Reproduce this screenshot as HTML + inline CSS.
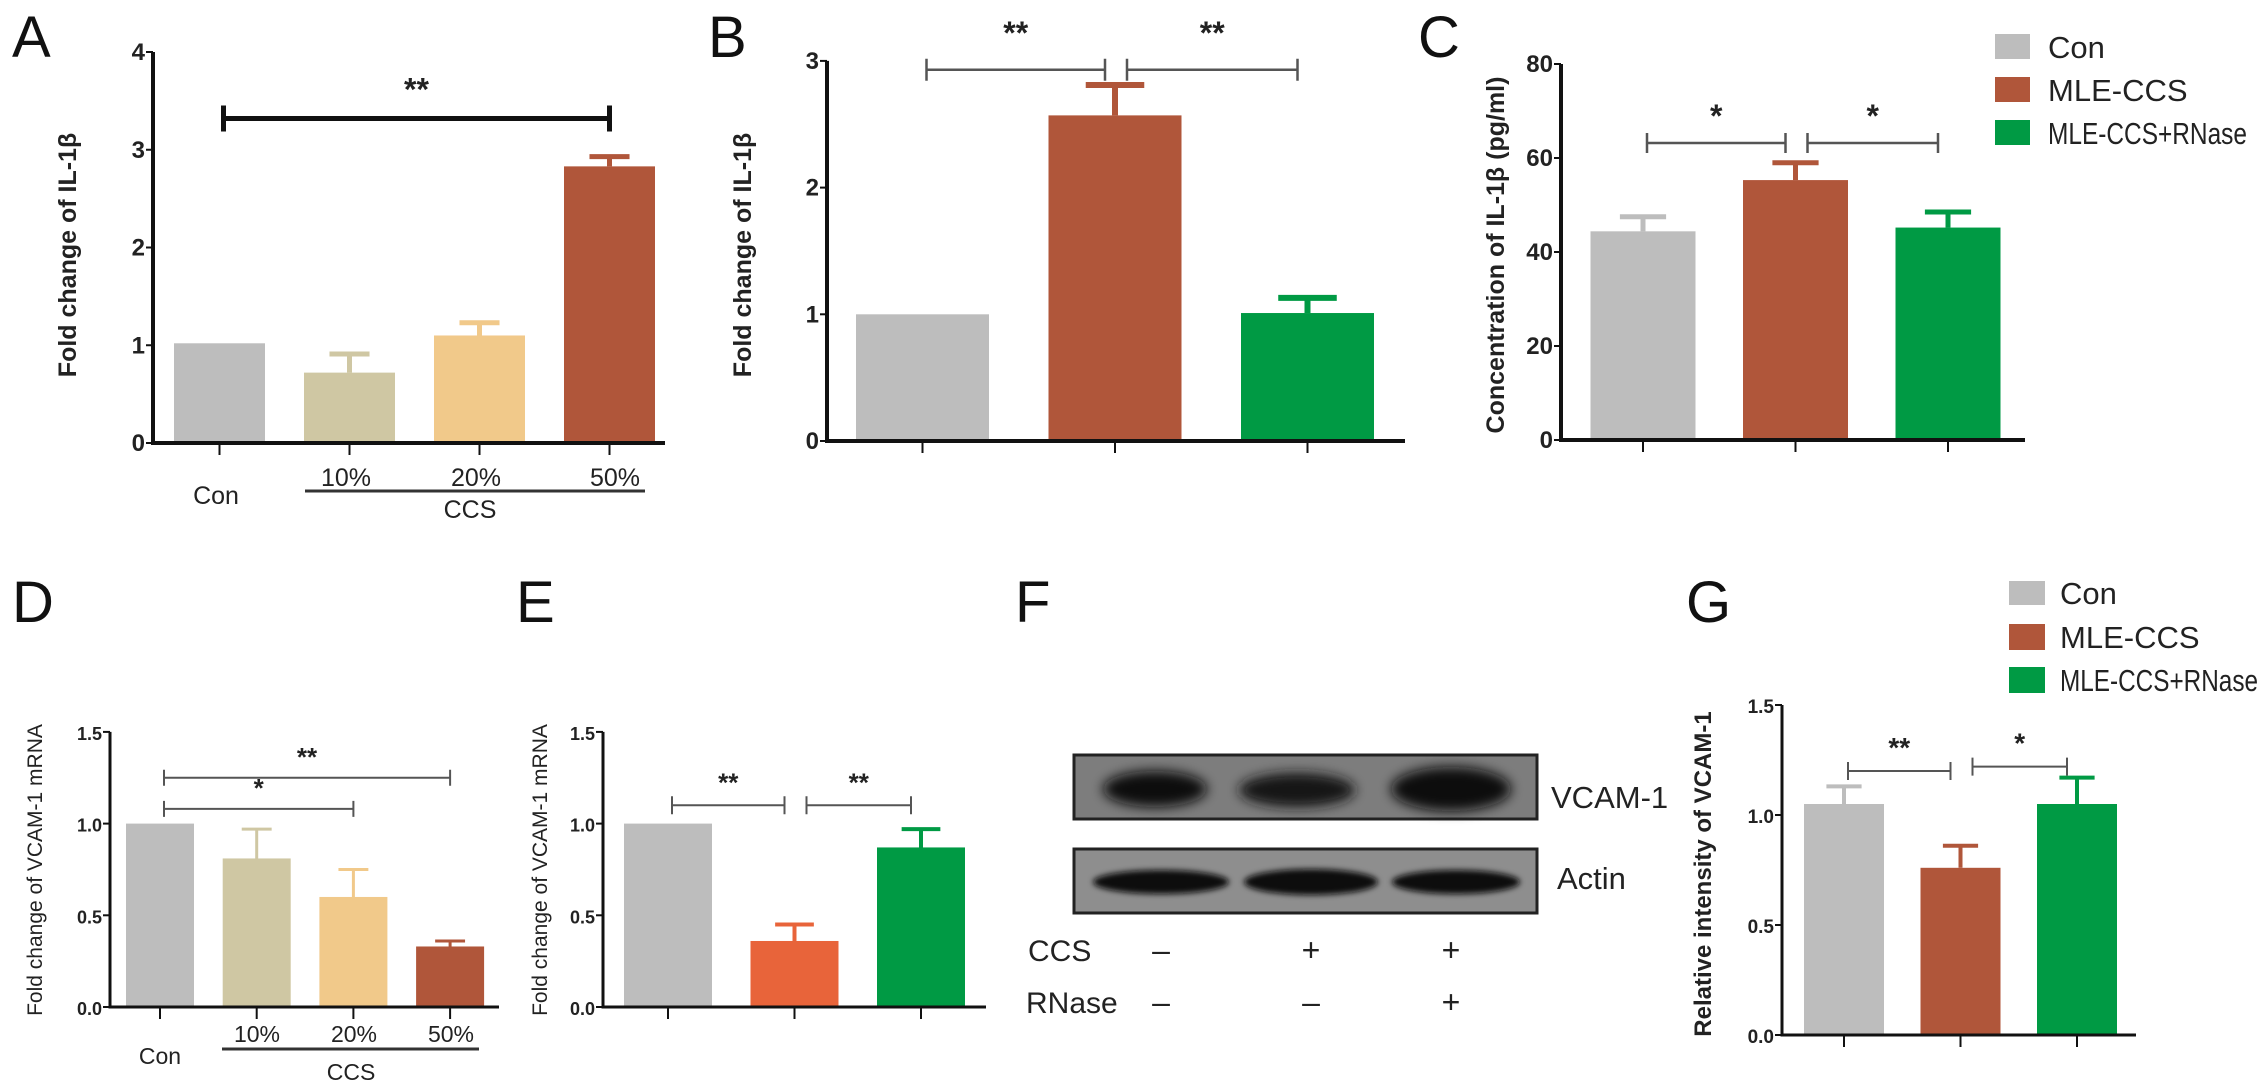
<!DOCTYPE html>
<html><head><meta charset="utf-8">
<style>
html,body{margin:0;padding:0;background:#fff;}
svg{display:block;}
text{font-family:"Liberation Sans Narrow","Liberation Sans",sans-serif;fill:#222;}
.lt{font-family:"Liberation Sans",sans-serif;font-size:58px;fill:#111;}
.tk{font-size:22px;font-weight:bold;}
.yl{font-family:"Liberation Sans",sans-serif;font-weight:bold;font-size:25px;}
.sig{font-size:30px;font-weight:bold;}
.lg{font-size:31px;}
</style></head>
<body>
<svg id="fig" width="2268" height="1091" viewBox="0 0 2268 1091" xmlns="http://www.w3.org/2000/svg">
<text class="lt" x="12" y="57">A</text>
<text class="lt" x="708" y="57">B</text>
<text class="lt" x="1418" y="57">C</text>
<text class="lt" x="12" y="622">D</text>
<text class="lt" x="516" y="622">E</text>
<text class="lt" x="1015" y="622">F</text>
<text class="lt" x="1686" y="622">G</text>

<text class="yl" transform="translate(76,255) rotate(-90)" text-anchor="middle">Fold change of IL-1β</text>
<text class="yl" transform="translate(751,255) rotate(-90)" text-anchor="middle">Fold change of IL-1β</text>
<text class="yl" transform="translate(1504,255) rotate(-90)" text-anchor="middle">Concentration of IL-1β (pg/ml)</text>
<text transform="translate(42,870) rotate(-90)" text-anchor="middle" style="font-family:'Liberation Sans',sans-serif;font-size:21px;">Fold change of VCAM-1 mRNA</text>
<text transform="translate(547,870) rotate(-90)" text-anchor="middle" style="font-family:'Liberation Sans',sans-serif;font-size:21px;">Fold change of VCAM-1 mRNA</text>
<text class="yl" transform="translate(1711,874) rotate(-90)" text-anchor="middle" style="font-size:24px">Relative intensity of VCAM-1</text>

<g style="font-size:25px">
<text x="216" y="504" text-anchor="middle">Con</text>
<text x="346" y="486" text-anchor="middle">10%</text>
<text x="476" y="486" text-anchor="middle">20%</text>
<text x="615" y="486" text-anchor="middle">50%</text>
<line x1="305" y1="491" x2="645" y2="491" stroke="#333" stroke-width="3"/>
<text x="470" y="518" text-anchor="middle">CCS</text>
</g>
<g style="font-size:23px">
<text x="160" y="1064" text-anchor="middle">Con</text>
<text x="257" y="1042" text-anchor="middle">10%</text>
<text x="354" y="1042" text-anchor="middle">20%</text>
<text x="451" y="1042" text-anchor="middle">50%</text>
<line x1="222" y1="1049" x2="479" y2="1049" stroke="#333" stroke-width="3"/>
<text x="351" y="1080" text-anchor="middle">CCS</text>
</g>

<g>
<defs><filter id="blur" x="-20%" y="-50%" width="140%" height="200%"><feGaussianBlur stdDeviation="6"/></filter>
<filter id="blur2" x="-20%" y="-50%" width="140%" height="200%"><feGaussianBlur stdDeviation="3"/></filter></defs>
<rect x="1074" y="755" width="463" height="64" fill="#7d7d7d" stroke="#222" stroke-width="3"/>
<ellipse cx="1155" cy="789" rx="52" ry="18" fill="#111" filter="url(#blur)"/>
<ellipse cx="1297" cy="790" rx="58" ry="17" fill="#151515" filter="url(#blur)"/>
<ellipse cx="1451" cy="789" rx="60" ry="22" fill="#0c0c0c" filter="url(#blur)"/>
<rect x="1074" y="849" width="463" height="64" fill="#8e8e8e" stroke="#222" stroke-width="3"/>
<ellipse cx="1161" cy="882" rx="68" ry="12" fill="#0a0a0a" filter="url(#blur2)"/>
<ellipse cx="1311" cy="882" rx="67" ry="13" fill="#0a0a0a" filter="url(#blur2)"/>
<ellipse cx="1456" cy="882" rx="64" ry="12" fill="#0a0a0a" filter="url(#blur2)"/>
<text x="1551" y="808" style="font-size:31px">VCAM-1</text>
<text x="1557" y="889" style="font-size:31px">Actin</text>
<text x="1028" y="961" style="font-size:30px">CCS</text>
<text x="1026" y="1013" style="font-size:30px">RNase</text>
<g style="font-size:32px" text-anchor="middle">
<text x="1161" y="961">–</text><text x="1311" y="961">+</text><text x="1451" y="961">+</text>
<text x="1161" y="1013">–</text><text x="1311" y="1013">–</text><text x="1451" y="1013">+</text>
</g>
</g>

<g>
<rect x="1995" y="34" width="35" height="25" fill="#bdbdbd"/><text class="lg" x="2048" y="58">Con</text>
<rect x="1995" y="77" width="35" height="25" fill="#b0563a"/><text class="lg" x="2048" y="101">MLE-CCS</text>
<rect x="1995" y="120" width="35" height="25" fill="#009a44"/><text class="lg" x="2048" y="144" textLength="199" lengthAdjust="spacingAndGlyphs">MLE-CCS+RNase</text>
</g>
<g>
<rect x="2009" y="581" width="36" height="24" fill="#bdbdbd"/><text class="lg" x="2060" y="604">Con</text>
<rect x="2009" y="624" width="36" height="26" fill="#b0563a"/><text class="lg" x="2060" y="648">MLE-CCS</text>
<rect x="2009" y="667" width="36" height="26" fill="#009a44"/><text class="lg" x="2060" y="691" textLength="198" lengthAdjust="spacingAndGlyphs">MLE-CCS+RNase</text>
</g>
</svg>
<script>
const aCats = ['Con','10%','20%','50%'];
const aVals = [1.02, 0.72, 1.10, 2.83];
const aErr  = [0, 0.19, 0.13, 0.10];
const aTicks = ['0','1','2','3','4'];

const bCats = ['Con','MLE-CCS','MLE-CCS+RNase'];
const bVals = [1.00, 2.57, 1.01];
const bErr  = [0, 0.24, 0.12];
const bTicks = ['0','1','2','3'];

const cCats = ['Con','MLE-CCS','MLE-CCS+RNase'];
const cVals = [44.4, 55.3, 45.2];
const cErr  = [3.1, 3.7, 3.3];
const cTicks = ['0','20','40','60','80'];

const dCats = ['Con','10%','20%','50%'];
const dVals = [1.00, 0.81, 0.60, 0.33];
const dErr  = [0, 0.16, 0.15, 0.03];
const dTicks = ['0.0','0.5','1.0','1.5'];

const eCats = ['Con','MLE-CCS','MLE-CCS+RNase'];
const eVals = [1.00, 0.36, 0.87];
const eErr  = [0, 0.09, 0.10];
const eTicks = ['0.0','0.5','1.0','1.5'];

const gCats = ['Con','MLE-CCS','MLE-CCS+RNase'];
const gVals = [1.05, 0.76, 1.05];
const gErr  = [0.08, 0.10, 0.12];
const gTicks = ['0.0','0.5','1.0','1.5'];

const aSig = [[0,3,3.32,'**']];
const bSig = [[0,1,2.93,'**'],[1,2,2.93,'**']];
const cSig = [[0,1,63.2,'*'],[1,2,63.2,'*']];
const dSig = [[0,3,1.25,'**'],[0,2,1.08,'*']];
const eSig = [[0,1,1.10,'**'],[1,2,1.10,'**']];
const gSig = [[0,1,1.20,'**'],[1,2,1.22,'*']];

const svg = document.getElementById('fig');
const NS = 'http://www.w3.org/2000/svg';
function mk(tag, attrs, parent){
  const el = document.createElementNS(NS, tag);
  for (const k in attrs) el.setAttribute(k, attrs[k]);
  (parent||svg).appendChild(el);
  return el;
}

function panel(id, cfg, cats, vals, errs, ticks, sigs){
  const g = mk('g', {});
  
  
  const yScale = v => cfg.y0 - v / cfg.step * cfg.unit;
  const xScale = i => cfg.c0 + i * cfg.pitch;
  vals.forEach((v, i) => {
    const cx = xScale(i), top = yScale(v), col = cfg.colors[i];
    const r = mk('rect', {x: cx - cfg.bw/2, y: top, width: cfg.bw, height: cfg.y0 - top, fill: col}, g);
    
    
    if (errs[i] > 0) {
      const ty = yScale(v + errs[i]);
      const e = mk('path', {d: `M${cx},${top} V${ty} M${cx - cfg.bw*0.22},${ty} H${cx + cfg.bw*0.22}`, stroke: col, 'stroke-width': cfg.ew, fill: 'none'}, g);
      
      
    }
  });
  const topY = yScale((ticks.length - 1) * cfg.step);
  const ax = mk('path', {d: `M${cfg.x0},${topY} V${cfg.y0} H${cfg.xEnd}`, stroke: '#111', 'stroke-width': cfg.aw, fill: 'none'}, g);
  
  
  ticks.forEach((t, k) => {
    const v = k * cfg.step, y = yScale(v);
    mk('line', {x1: cfg.x0 - 7, y1: y, x2: cfg.x0, y2: y, stroke: '#111', 'stroke-width': 2}, g);
    const tl = mk('text', {x: cfg.x0 - 8, y: y + 8, 'text-anchor': 'end', class: 'tk', style: 'font-size:' + cfg.tf + 'px'}, g);
    tl.textContent = t;
    
    
  });
  cats.forEach((c, i) => {
    mk('line', {x1: xScale(i), y1: cfg.y0, x2: xScale(i), y2: cfg.y0 + 12, stroke: '#111', 'stroke-width': 2}, g);
  });
  sigs.forEach((s, j) => {
    const adj = (s[1] - s[0] === 1);
    const x1 = xScale(s[0]) + (adj && s[0] > 0 ? 12 : 4);
    const x2 = xScale(s[1]) - (adj ? 10 : 0);
    const y = yScale(s[2]);
    const p = mk('path', {d: `M${x1},${y - cfg.wh} V${y + cfg.wh} M${x1},${y} H${x2} M${x2},${y - cfg.wh} V${y + cfg.wh}`, stroke: cfg.sc, 'stroke-width': cfg.sw, fill: 'none'}, g);
    
    
    const st = mk('text', {x: (x1 + x2)/2, y: y - cfg.sgap, 'text-anchor': 'middle', class: 'sig', style: 'font-size:' + cfg.sf + 'px'}, g);
    st.textContent = s[3];
    
    
  });
}

const GR = '#bdbdbd', KH = '#cfc7a3', TN = '#f1c98a', RU = '#b0563a', GN = '#009a44', OR = '#e8643a';
panel('a', {x0:153, y0:443, unit:97.75, step:1, c0:219.5, pitch:130, bw:91, xEnd:665, colors:[GR,KH,TN,RU], ew:5, aw:4, tf:24, sc:'#111', sw:5, wh:13, sgap:18, sf:32}, aCats, aVals, aErr, aTicks, aSig);
panel('b', {x0:827, y0:441, unit:126.7, step:1, c0:922.5, pitch:192.5, bw:133, xEnd:1405, colors:[GR,RU,GN], ew:6, aw:4, tf:24, sc:'#555', sw:2.5, wh:11, sgap:26, sf:32}, bCats, bVals, bErr, bTicks, bSig);
panel('c', {x0:1561, y0:440, unit:94, step:20, c0:1643, pitch:152.5, bw:105, xEnd:2025, colors:[GR,RU,GN], ew:5, aw:4, tf:24, sc:'#555', sw:2.5, wh:10, sgap:16, sf:32}, cCats, cVals, cErr, cTicks, cSig);
panel('d', {x0:110, y0:1007, unit:91.7, step:0.5, c0:160, pitch:96.7, bw:68, xEnd:499, colors:[GR,KH,TN,RU], ew:3, aw:3, tf:18, sc:'#555', sw:2, wh:8, sgap:12, sf:26}, dCats, dVals, dErr, dTicks, dSig);
panel('e', {x0:603, y0:1007, unit:91.7, step:0.5, c0:668, pitch:126.5, bw:88, xEnd:986, colors:[GR,OR,GN], ew:4, aw:3, tf:18, sc:'#555', sw:2, wh:9, sgap:14, sf:26}, eCats, eVals, eErr, eTicks, eSig);
panel('g', {x0:1782, y0:1035, unit:110, step:0.5, c0:1844, pitch:116.5, bw:80, xEnd:2136, colors:[GR,RU,GN], ew:4, aw:3, tf:19, sc:'#555', sw:2, wh:9, sgap:14, sf:28}, gCats, gVals, gErr, gTicks, gSig);
</script>
</body></html>
